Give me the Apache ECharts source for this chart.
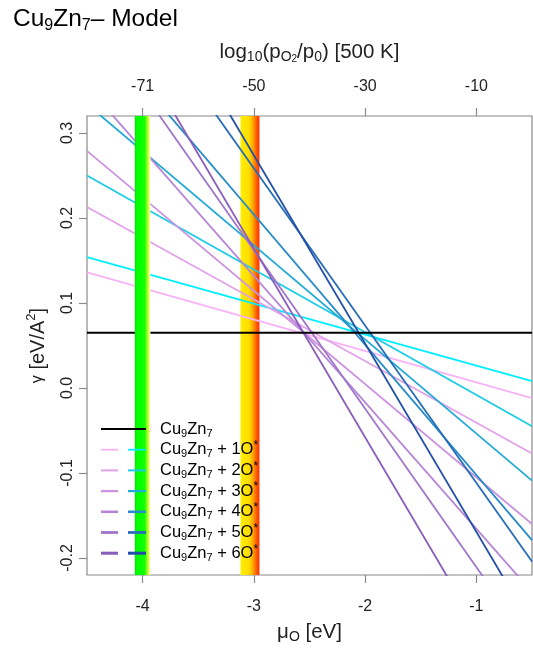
<!DOCTYPE html>
<html><head><meta charset="utf-8">
<script src="https://cdn.jsdelivr.net/npm/echarts@6/dist/echarts.min.js"></script>
<style>html,body{margin:0;padding:0;background:#fff}#c{width:533px;height:649px}</style>
</head><body><div id="c"></div>
<script>
// ---- data ----
const muRange = [-4.5, -0.5];               // x extent (eV)
const gammaRange = [-0.22, 0.32];           // y extent
const gammaClean = 0.065;                   // Cu9Zn7 clean surface
// family A (pink -> purple): gamma at mu=-4.5 and at mu=-0.5
const famA_start = [0.136, 0.213, 0.279, 0.355, 0.442, 0.497];
const famA_end   = [-0.012, -0.077, -0.160, -0.240, -0.304, -0.391];
// family B (cyan -> dark blue)
const famB_start = [0.154, 0.250, 0.334, 0.434, 0.536, 0.606];
const famB_end   = [0.008, -0.045, -0.109, -0.179, -0.204, -0.280];
const colorsA = ['#F8B2F6', '#E2A2EA', '#CB93E0', '#B585D6', '#A076CA', '#8A5CBB'];
const colorsB = ['#00EEFF', '#1CCCE6', '#22AAD6', '#288CC8', '#276DB8', '#2350A6'];
const bottomTicks = [-4, -3, -2, -1];
const topTickLabels = ['-71', '-50', '-30', '-10'];
const yTicks = [-0.2, -0.1, 0, 0.1, 0.2, 0.3];
const bandGreen = [-4.07, -3.93];
const bandRed = [-3.12, -2.95];
const legendN = ['1', '2', '3', '4', '5', '6'];

const FONT = 'Liberation Sans, Arial, sans-serif';
const chart = echarts.init(document.getElementById('c'), null, {renderer: 'canvas'});

const greenGrad = {type: 'linear', x: 0, y: 0, x2: 1, y2: 0, colorStops: [
  {offset: 0, color: '#00e000'}, {offset: 0.12, color: '#00ff00'}, {offset: 0.62, color: '#11ff00'},
  {offset: 0.8, color: '#99ff22'}, {offset: 0.92, color: '#eeff66'}, {offset: 1, color: '#ffffdd'}]};
const redGrad = {type: 'linear', x: 0, y: 0, x2: 1, y2: 0, colorStops: [
  {offset: 0, color: '#ffee00'}, {offset: 0.45, color: '#ffdd00'}, {offset: 0.65, color: '#ffaa00'},
  {offset: 0.82, color: '#ff6600'}, {offset: 1, color: '#ff2a00'}]};

const series = [];
// band under the lines
series.push({
  type: 'line', name: 'bandRed', z: 0, symbol: 'none', silent: true, data: [],
  markArea: {silent: true, z: 0, data: [[{xAxis: bandRed[0], itemStyle: {color: redGrad}}, {xAxis: bandRed[1]}]]}
});
for (let i = 0; i < 6; i++) {
  series.push({type: 'line', name: 'A' + (i + 1), symbol: 'none', silent: true, z: 2,
    data: [[muRange[0], famA_start[i]], [muRange[1], famA_end[i]]],
    lineStyle: {color: colorsA[i], width: 1.8}});
  series.push({type: 'line', name: 'B' + (i + 1), symbol: 'none', silent: true, z: 2,
    data: [[muRange[0], famB_start[i]], [muRange[1], famB_end[i]]],
    lineStyle: {color: colorsB[i], width: 1.8}});
}
series.push({
  type: 'line', name: 'Cu9Zn7', z: 3, symbol: 'none', silent: true,
  data: [[muRange[0], gammaClean], [muRange[1], gammaClean]],
  lineStyle: {color: '#000', width: 2}
});
// band over the lines
series.push({
  type: 'line', name: 'bandGreen', z: 4, symbol: 'none', silent: true, data: [],
  markArea: {silent: true, z: 4, data: [[{xAxis: bandGreen[0], itemStyle: {color: greenGrad}}, {xAxis: bandGreen[1]}]]}
});

const axisGrey = '#8a8a8a';
const labelStyle = {color: '#222', fontFamily: FONT, fontSize: 16};

// legend (decoration)
const graphics = [];
const lx0 = 101, lx1 = 146, tx = 160, ly0 = 429, ldy = 20.7;
const richBase = {
  n: {fontSize: 16.5, fontFamily: FONT, color: '#222', lineHeight: 20},
  s: {fontSize: 11, fontFamily: FONT, color: '#222', lineHeight: 10, verticalAlign: 'bottom'},
  p: {fontSize: 12, fontFamily: FONT, color: '#222', lineHeight: 12, verticalAlign: 'top'}
};
graphics.push({type: 'line', shape: {x1: lx0, y1: ly0, x2: lx1, y2: ly0}, style: {stroke: '#000', lineWidth: 2}, z: 10});
graphics.push({type: 'text', x: tx, y: ly0, z: 10, style: {text: '{n|Cu}{s|9}{n|Zn}{s|7}', rich: richBase, verticalAlign: 'middle'}});
for (let i = 0; i < 6; i++) {
  const y = ly0 + ldy * (i + 1);
  const w = 1.8 + 0.25 * i;
  graphics.push({type: 'line', shape: {x1: lx0, y1: y, x2: 118, y2: y}, style: {stroke: colorsA[i], lineWidth: w}, z: 10});
  graphics.push({type: 'line', shape: {x1: 128, y1: y, x2: lx1, y2: y}, style: {stroke: colorsB[i], lineWidth: w}, z: 10});
  graphics.push({type: 'text', x: tx, y: y, z: 10, style: {text: '{n|Cu}{s|9}{n|Zn}{s|7}{n| + ' + legendN[i] + 'O}{p|*}', rich: richBase, verticalAlign: 'middle'}});
}
// title
graphics.push({type: 'text', x: 13, y: 19, style: {text: '{n|Cu}{s|9}{n|Zn}{s|7}{n|\u2013 Model}', verticalAlign: 'middle',
  rich: {n: {fontSize: 24.5, fontFamily: FONT, color: '#111', lineHeight: 30},
         s: {fontSize: 16, fontFamily: FONT, color: '#111', lineHeight: 15, verticalAlign: 'bottom'}}}});

chart.setOption({
  animation: false,
  backgroundColor: '#fff',
  grid: {left: 87, top: 116, right: 1, bottom: 74, show: true, borderColor: axisGrey, borderWidth: 1.2, backgroundColor: 'transparent'},
  xAxis: [{
    type: 'value', position: 'bottom', min: muRange[0], max: muRange[1],
    axisLine: {show: false, onZero: false}, splitLine: {show: false},
    axisTick: {show: true, length: 8, lineStyle: {color: axisGrey, width: 1.2}, customValues: bottomTicks},
    axisLabel: {...labelStyle, margin: 24, customValues: bottomTicks, formatter: v => String(v)},
    name: '{n|\u03bc}{s|O}{n| [eV]}', nameLocation: 'middle', nameGap: 45,
    nameTextStyle: {rich: {n: {fontSize: 20.5, fontFamily: FONT, color: '#222', lineHeight: 24},
      s: {fontSize: 14, fontFamily: FONT, color: '#222', lineHeight: 13, verticalAlign: 'bottom'}}}
  }, {
    type: 'value', position: 'top', min: muRange[0], max: muRange[1],
    axisLine: {show: false, onZero: false}, splitLine: {show: false},
    axisTick: {show: true, length: 8, lineStyle: {color: axisGrey, width: 1.2}, customValues: bottomTicks},
    axisLabel: {...labelStyle, margin: 21, customValues: bottomTicks,
      formatter: v => topTickLabels[bottomTicks.indexOf(Math.round(v))] || ''},
    name: '{n|log}{s|10}{n|(p}{s|O}{ss|2}{n|/p}{s|0}{n|) [500 K]}', nameLocation: 'middle', nameGap: 52,
    nameTextStyle: {rich: {n: {fontSize: 20.5, fontFamily: FONT, color: '#222', lineHeight: 24},
      s: {fontSize: 14, fontFamily: FONT, color: '#222', lineHeight: 13, verticalAlign: 'bottom'},
      ss: {fontSize: 10, fontFamily: FONT, color: '#222', lineHeight: 7, verticalAlign: 'bottom'}}}
  }],
  yAxis: {
    type: 'value', min: gammaRange[0], max: gammaRange[1],
    axisLine: {show: false, onZero: false}, splitLine: {show: false},
    axisTick: {show: true, length: 8, lineStyle: {color: axisGrey, width: 1.2}, customValues: yTicks},
    axisLabel: {...labelStyle, rotate: 90, margin: 11, customValues: yTicks, formatter: v => v.toFixed(1)},
    name: '{g|\u03b3}{n| [eV/A}{p|2}{n|]}', nameLocation: 'middle', nameGap: 36, nameRotate: 90,
    nameTextStyle: {rich: {n: {fontSize: 20, fontFamily: FONT, color: '#222', lineHeight: 26},
      g: {fontSize: 16, fontFamily: FONT, color: '#222', lineHeight: 26},
      p: {fontSize: 13, fontFamily: FONT, color: '#222', lineHeight: 12, verticalAlign: 'top'}}}
  },
  series: series,
  graphic: graphics
});
</script></body></html>
